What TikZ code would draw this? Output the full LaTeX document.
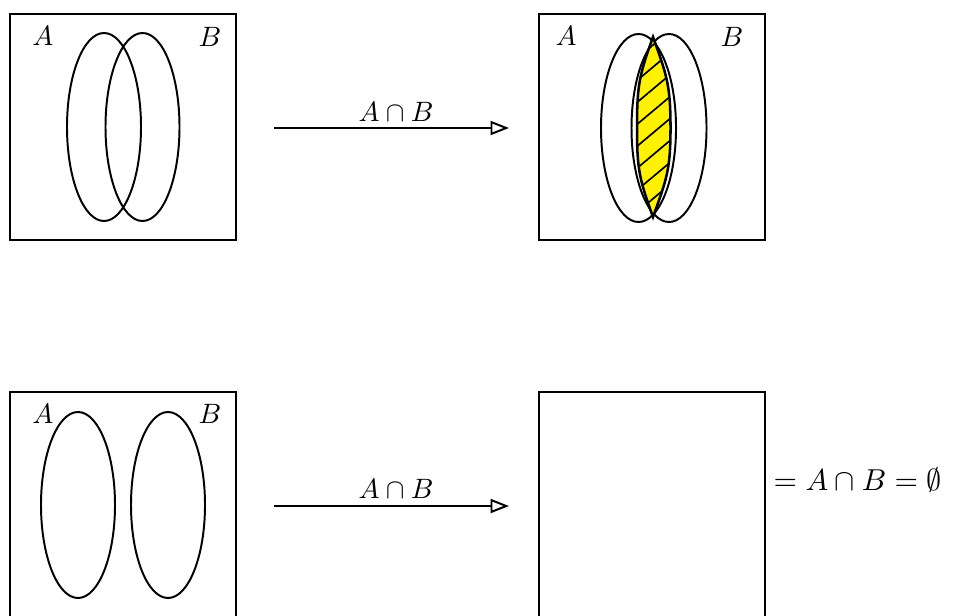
\documentclass[tikz,border=0pt]{standalone}
\usetikzlibrary{arrows.meta,patterns.meta}
\begin{document}
\begin{tikzpicture}[x=0.357pt,y=-0.357pt,
  frame/.style={draw,line width=0.7pt,rectangle,minimum width=80.7pt,minimum height=80.7pt,inner sep=0pt},
  venn/.style={line width=0.7pt},
  lbl/.style={inner sep=0pt},
  maparrow/.style={line width=0.7pt,-{Triangle[open,length=6.6pt,width=5pt,line width=0.7pt]}}]
\useasboundingbox (0,0) rectangle (953,615);
% boxes
\node[frame] (b1) at (123,127) {};
\node[frame] (b2) at (652,127) {};
\node[frame] (b3) at (123,505) {};
\node[frame] (b4) at (652,505) {};
% top-left venn
\draw[venn] (104,127) ellipse [x radius=13.21pt,y radius=33.56pt];
\draw[venn] (142.5,127) ellipse [x radius=13.21pt,y radius=33.56pt];
\node[lbl] (tlA) at (43,36) {$A$};
\node[lbl] (tlB) at (210,37) {$B$};
% top-right venn
\draw[venn] (638.5,128) ellipse [x radius=13.39pt,y radius=33.56pt];
\draw[venn] (669,128) ellipse [x radius=13.39pt,y radius=33.56pt];
\def\lens{(653,37) to[out=-110,in=90,looseness=1.15] (637,128) to[out=-90,in=110,looseness=1.15] (653,217) to[out=70,in=-90,looseness=1.15] (670.5,128) to[out=90,in=-70,looseness=1.15] (653,37) -- cycle}
\fill[yellow] \lens;
\path[pattern={Lines[angle=40,distance=6pt,line width=0.6pt]},pattern color=black] \lens;
\draw[line width=0.9pt] \lens;
\node[lbl] (trA) at (566,36) {$A$};
\node[lbl] (trB) at (732,37) {$B$};
% bottom-left venn
\draw[venn] (78,505) ellipse [x radius=13.21pt,y radius=33.2pt];
\draw[venn] (168,505) ellipse [x radius=13.21pt,y radius=33.2pt];
\node[lbl] (blA) at (43,414) {$A$};
\node[lbl] (blB) at (210,414) {$B$};
% arrows
\coordinate (s1) at (274,128);
\coordinate (e1) at (509,128);
\coordinate (s2) at (274,506);
\coordinate (e2) at (509,506);
\draw[maparrow] (s1) -- (e1);
\draw[maparrow] (s2) -- (e2);
\node[lbl] (l1) at (396,112) {$A\cap B$};
\node[lbl] (l2) at (396,489) {$A\cap B$};
% result text
\node[anchor=west,inner sep=0pt,scale=1.08] (res) at (773,480) {$=A\cap B=\emptyset$};
\end{tikzpicture}
\end{document}
